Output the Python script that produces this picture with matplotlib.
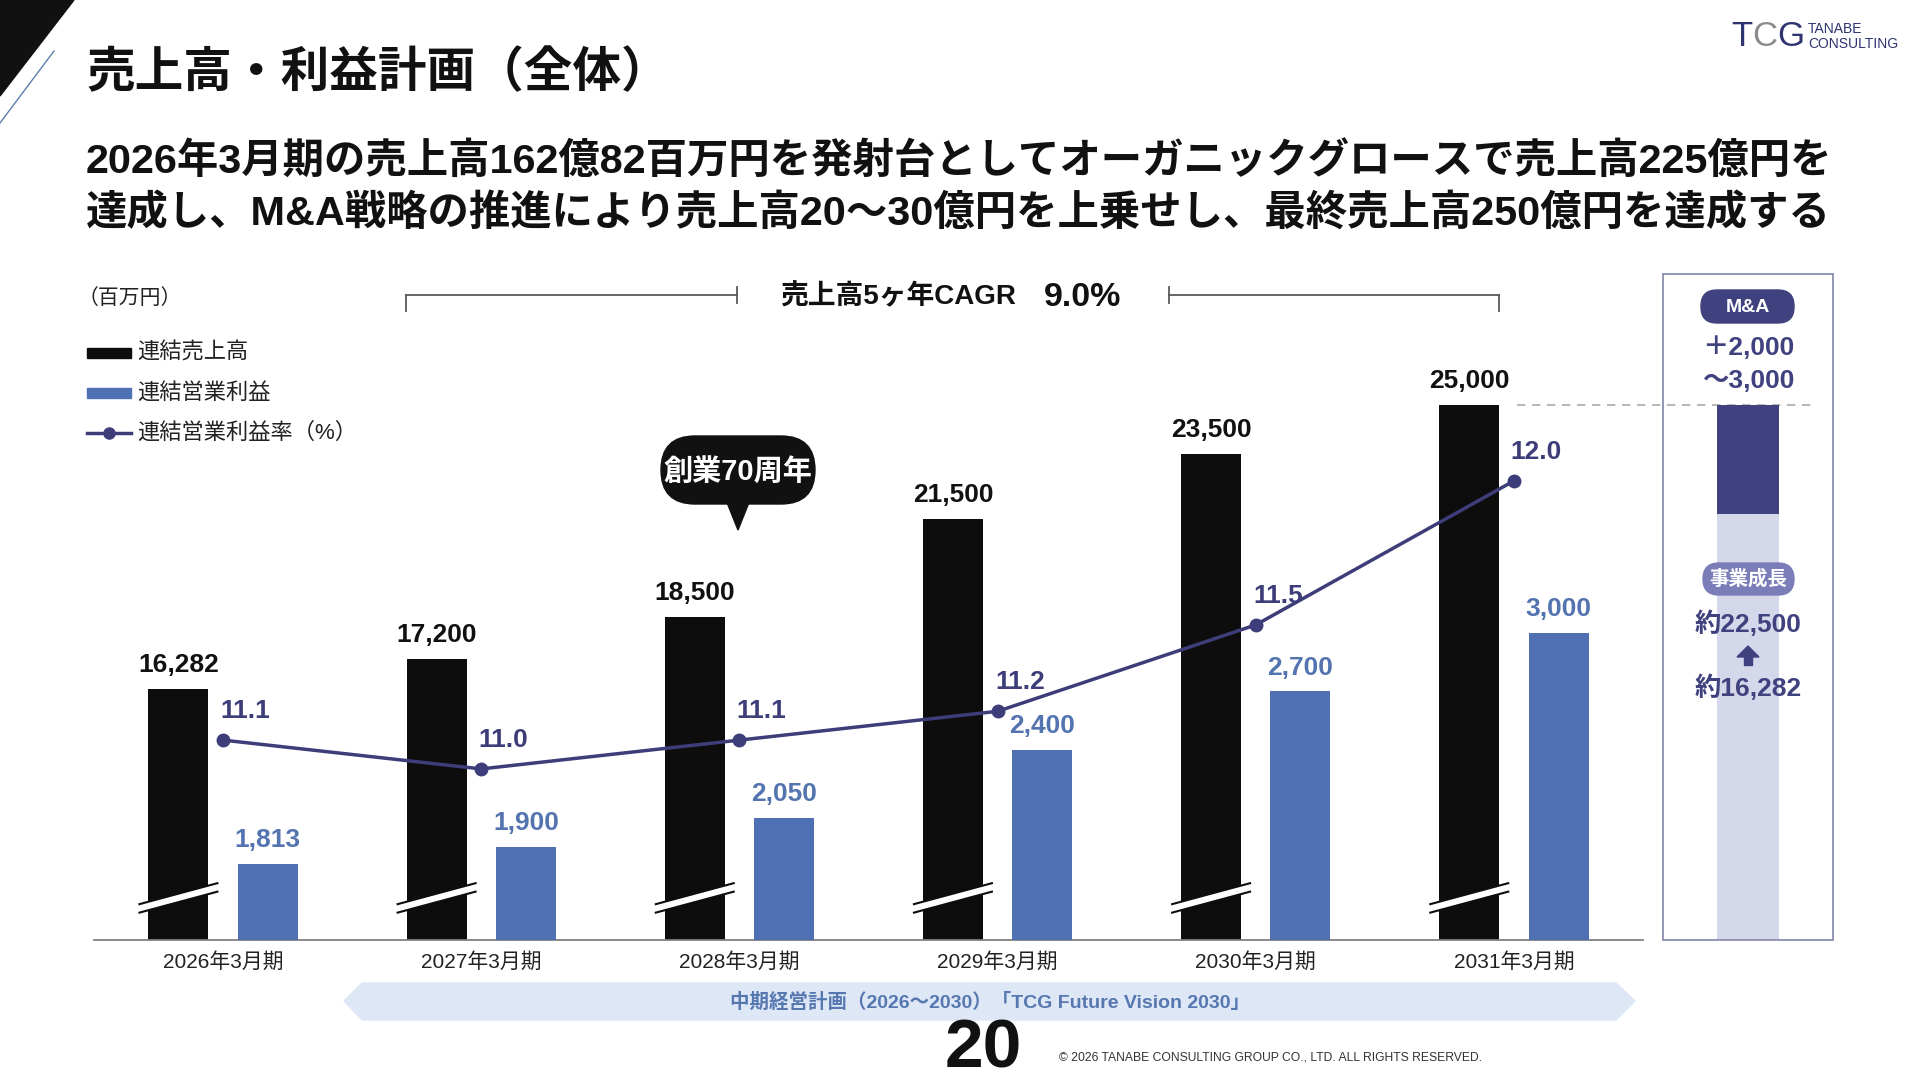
import numpy as np
import matplotlib
matplotlib.use("Agg")
import matplotlib.pyplot as plt
from matplotlib.patches import Rectangle, FancyBboxPatch, Polygon

plt.rcParams['font.family'] = ['Liberation Sans', 'Noto Sans CJK JP', 'DejaVu Sans']

# data
categories = ['2026年3月期', '2027年3月期', '2028年3月期', '2029年3月期', '2030年3月期', '2031年3月期']
sales = [16282, 17200, 18500, 21500, 23500, 25000]
profit = [1813, 1900, 2050, 2400, 2700, 3000]
margin = [11.1, 11.0, 11.1, 11.2, 11.5, 12.0]
margin_labels = ['11.1', '11.0', '11.1', '11.2', '11.5', '12.0']
panel_growth = 21650
panel_total = 25000

BLACK = '#0d0d0d'
BLUE = '#4f71b3'
BLUE_TXT = '#5474b0'
NAVY = '#3d3d7a'
NAVY2 = '#40427f'

fig = plt.figure(figsize=(19.2, 10.8), dpi=100)
fig.patch.set_facecolor('white')

# main chart
ax = fig.add_axes([94 / 1920, 140 / 1080, 1549 / 1920, 640 / 1080])
ax2 = ax.twinx()
ax3 = ax.twinx()
ax.set_xlim(-0.5, 5.5)
ax.set_ylim(8578, 28222)
ax2.set_ylim(1422, 4711)
ax3.set_ylim(10.406, 12.628)

x = np.arange(len(categories))
off = 0.173
w = 0.232

ax.bar(x - off, sales, width=w, color=BLACK, zorder=2)
ax2.bar(x + off, profit, width=w, color=BLUE, zorder=2)
ax3.plot(x, margin, color=NAVY, lw=2.5, marker='o', ms=9, zorder=3)

for xi, v in zip(x, sales):
    ax.annotate(f'{v:,}', (xi - off, v), xytext=(0, 17), textcoords='offset points',
                ha='center', va='center', fontsize=19, fontweight='bold', color='#111111')
for xi, v in zip(x, profit):
    ax2.annotate(f'{v:,}', (xi + off, v), xytext=(0, 17), textcoords='offset points',
                 ha='center', va='center', fontsize=19, fontweight='bold', color=BLUE_TXT)
for xi, v, lab in zip(x, margin, margin_labels):
    ax3.annotate(lab, (xi, v), xytext=(16, 21), textcoords='offset points',
                 ha='center', va='center', fontsize=19, fontweight='bold', color=NAVY)

# axis break marks on black bars
ybreak, dy, gap, hw = 9870, 322, 130, 0.151
for xi in x - off:
    xs = [xi - hw, xi + hw, xi + hw, xi - hw]
    ys = [ybreak - dy - gap, ybreak + dy - gap, ybreak + dy + gap, ybreak - dy + gap]
    ax.add_patch(Polygon(list(zip(xs, ys)), closed=True, facecolor='white', edgecolor='none', zorder=4))
    ax.plot([xi - hw, xi + hw], [ybreak - dy - gap, ybreak + dy - gap], color=BLACK, lw=1.5, zorder=5)
    ax.plot([xi - hw, xi + hw], [ybreak - dy + gap, ybreak + dy + gap], color=BLACK, lw=1.5, zorder=5)

ax.set_xticks(x)
ax.set_xticklabels(categories, fontsize=15, color='#222222')
ax.tick_params(axis='x', length=0, pad=9)
ax.set_yticks([])
for a in (ax2, ax3):
    a.set_yticks([])
    for s in a.spines.values():
        s.set_visible(False)
for k in ('top', 'left', 'right'):
    ax.spines[k].set_visible(False)
ax.spines['bottom'].set_color('#808080')
ax.spines['bottom'].set_linewidth(1.3)

# dashed line at final sales level
ax.plot([5.012, 6.17], [sales[-1], sales[-1]], color='#aaaaaa', lw=1.2, ls=(0, (5, 4)),
        clip_on=False, zorder=6)

# right panel
pax = fig.add_axes([1663 / 1920, 140 / 1080, 170 / 1920, 640 / 1080])
pax.set_xlim(0, 1)
pax.set_ylim(ax.get_ylim())
pax.bar(0.5, panel_growth, width=0.365, color='#d5d7ea')
pax.bar(0.5, panel_total - panel_growth, bottom=panel_growth, width=0.365, color=NAVY2)
pax.axis('off')

# overlay in pixel coords
ov = fig.add_axes([0, 0, 1, 1], zorder=10)
ov.set_xlim(0, 1920)
ov.set_ylim(1080, 0)
ov.axis('off')

# corner decoration
ov.add_patch(Polygon([(0, 0), (74, 0), (0, 96)], closed=True, color='#111111'))
ov.plot([54, 0], [51, 123], color='#5b7fb0', lw=1)

# title / subtitle
ov.text(86, 73, '売上高・利益計画（全体）', fontsize=35, fontweight='bold', va='center',
        color='#111111', family=['Noto Sans CJK JP'])
ov.text(86, 162, '2026年3月期の売上高162億82百万円を発射台としてオーガニックグロースで売上高225億円を',
        fontsize=29.8, fontweight='bold', va='center', color='#111111')
ov.text(86, 213, '達成し、M&A戦略の推進により売上高20〜30億円を上乗せし、最終売上高250億円を達成する',
        fontsize=29.8, fontweight='bold', va='center', color='#111111')

# logo
ov.text(1742, 37, 'T', fontsize=25, color='#2e3470', ha='center', va='center')
ov.text(1765, 37, 'C', fontsize=25, color='#8c8c8c', ha='center', va='center')
ov.text(1791, 37, 'G', fontsize=25, color='#2e3470', ha='center', va='center')
ov.text(1808, 29, 'TANABE', fontsize=10, color='#2e3470', va='center')
ov.text(1808, 44, 'CONSULTING', fontsize=10, color='#2e3470', va='center')

# unit and legend
ov.text(78, 298, '（百万円）', fontsize=15, va='center', color='#222222')
ov.add_patch(Rectangle((87, 348), 44, 10, color=BLACK))
ov.add_patch(Rectangle((87, 388), 44, 10, color=BLUE))
ov.plot([87, 131], [433, 433], color=NAVY, lw=2.5)
ov.plot([109], [433], marker='o', ms=8, color=NAVY)
ov.text(137, 353, '連結売上高', fontsize=16, va='center', color='#222222')
ov.text(137, 393, '連結営業利益', fontsize=16, va='center', color='#222222')
ov.text(137, 433, '連結営業利益率（%）', fontsize=16, va='center', color='#222222')

# CAGR bracket
gc = '#595959'
ov.plot([406, 737], [295, 295], color=gc, lw=1.3)
ov.plot([406, 406], [295, 311], color=gc, lw=1.3)
ov.plot([737, 737], [287, 303], color=gc, lw=1.3)
ov.plot([1169, 1499], [295, 295], color=gc, lw=1.3)
ov.plot([1169, 1169], [287, 303], color=gc, lw=1.3)
ov.plot([1499, 1499], [295, 311], color=gc, lw=1.3)
ov.text(780, 297, '売上高5ヶ年CAGR', fontsize=20, fontweight='bold', va='center', color='#111111')
ov.text(1044, 297, '9.0%', fontsize=24.5, fontweight='bold', va='center', color='#111111')

# callout
ov.add_patch(FancyBboxPatch((627 + 34, 436), 222 - 68, 68,
                            boxstyle='round,pad=0,rounding_size=34', color='#111111'))
ov.add_patch(Polygon([(726, 500), (750, 500), (738, 530)], closed=True, color='#111111'))
ov.text(738, 472, '創業70周年', fontsize=21, fontweight='bold', color='white', ha='center', va='center')

# right panel decorations
ov.add_patch(Rectangle((1663, 274), 170, 666, fill=False, edgecolor='#8a8fb0', lw=1.3))
ov.add_patch(FancyBboxPatch((1685 + 16, 290), 125 - 32, 33,
                            boxstyle='round,pad=0,rounding_size=16', color=NAVY2))
ov.text(1748, 307, 'M&A', fontsize=14, fontweight='bold', color='white', ha='center', va='center')
ov.text(1748, 348, '＋2,000', fontsize=19, fontweight='bold', color=NAVY2, ha='center', va='center')
ov.text(1748, 381, '〜3,000', fontsize=19, fontweight='bold', color=NAVY2, ha='center', va='center')
ov.add_patch(FancyBboxPatch((1687 + 16, 563), 123 - 32, 32,
                            boxstyle='round,pad=0,rounding_size=16', color='#7b7db9'))
ov.text(1748, 579, '事業成長', fontsize=14, fontweight='bold', color='white', ha='center', va='center')
ov.text(1748, 624, '約22,500', fontsize=19, fontweight='bold', color=NAVY2, ha='center', va='center')
ov.add_patch(Polygon([(1737, 657), (1759, 657), (1748, 646)], closed=True, color=NAVY2))
ov.add_patch(Rectangle((1744, 656), 8, 9, color=NAVY2))
ov.text(1748, 688, '約16,282', fontsize=19, fontweight='bold', color=NAVY2, ha='center', va='center')

# bottom ribbon
ov.add_patch(Polygon([(344, 1001), (362, 983), (1616, 983), (1635, 1001), (1616, 1020), (362, 1020)],
                     closed=True, color='#dde7f5'))
ov.text(990, 1002, '中期経営計画（2026〜2030）「TCG Future Vision 2030」', fontsize=14,
        fontweight='bold', color='#5677b0', ha='center', va='center')

# footer
ov.text(983, 1050, '20', fontsize=50, fontweight='bold', color='#111111', ha='center', va='center',
        family=['Liberation Sans Narrow', 'Liberation Sans'])
ov.text(1059, 1057, '© 2026 TANABE CONSULTING GROUP CO., LTD. ALL RIGHTS RESERVED.', fontsize=8.7,
        color='#333333', va='center', family=['Liberation Sans Narrow', 'Liberation Sans'])

fig.savefig('out.png', dpi=100)
